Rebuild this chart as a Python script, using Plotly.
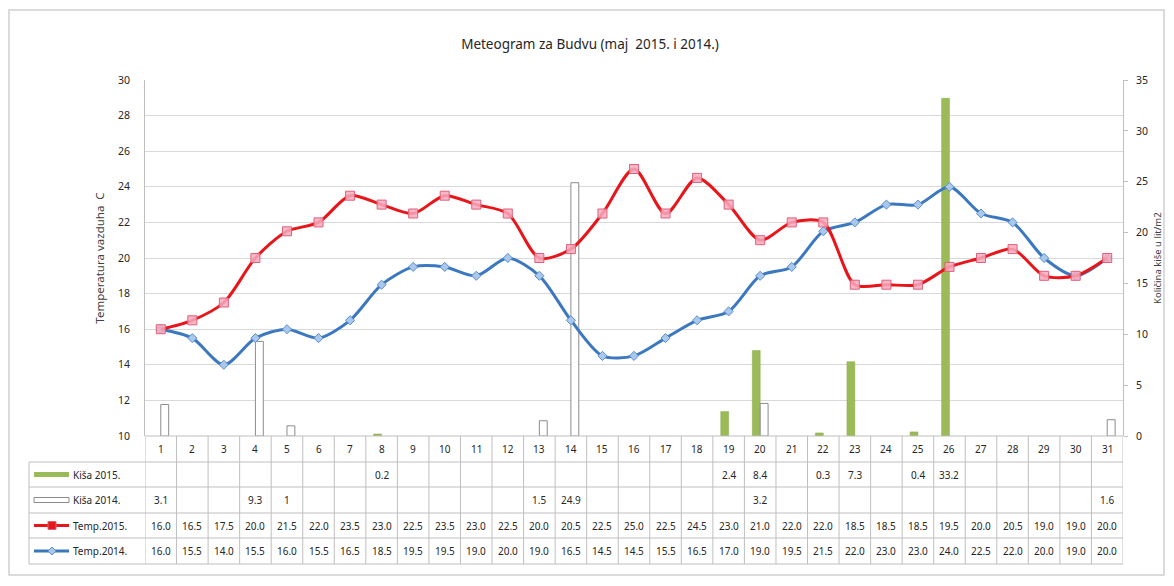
import plotly.graph_objects as go

days = list(range(1, 32))
rain_2015 = {8: 0.2, 19: 2.4, 20: 8.4, 22: 0.3, 23: 7.3, 25: 0.4, 26: 33.2}
rain_2014 = {1: 3.1, 4: 9.3, 5: 1, 13: 1.5, 14: 24.9, 20: 3.2, 31: 1.6}
temp_2015 = [16.0, 16.5, 17.5, 20.0, 21.5, 22.0, 23.5, 23.0, 22.5, 23.5, 23.0, 22.5, 20.0, 20.5, 22.5,
             25.0, 22.5, 24.5, 23.0, 21.0, 22.0, 22.0, 18.5, 18.5, 18.5, 19.5, 20.0, 20.5, 19.0, 19.0, 20.0]
temp_2014 = [16.0, 15.5, 14.0, 15.5, 16.0, 15.5, 16.5, 18.5, 19.5, 19.5, 19.0, 20.0, 19.0, 16.5, 14.5,
             14.5, 15.5, 16.5, 17.0, 19.0, 19.5, 21.5, 22.0, 23.0, 23.0, 24.0, 22.5, 22.0, 20.0, 19.0, 20.0]
row_labels = ["Kiša 2015.", "Kiša 2014.", "Temp.2015.", "Temp.2014."]
title = "Meteogram za Budvu (maj  2015. i 2014.)"
ytitle_left = "Temperatura vazduha  C"
ytitle_right = "Količina kiše u lit/m2"

# page offset caused by the default body margin of the html page
OFF = 8
W, H = 1158, 570
# plot-area edges in page pixels
L, R, T, B = 145, 1123, 80, 436
PW, PH = R - L, B - T

def px(x):
    return (x - L) / PW

def py(y):
    return (B - y) / PH

FONT = "Noto Sans"
GRID = "#D9D9D9"
TBL = "#BFBFBF"
TXT = "#262626"

r15 = [rain_2015.get(d) for d in days]
r14 = [rain_2014.get(d) for d in days]

fig = go.Figure()
fig.add_trace(go.Bar(x=days, y=r15, yaxis="y", name=row_labels[0],
                     marker=dict(color="#9BBB59", line=dict(color="#8AAA4A", width=0.5))))
fig.add_trace(go.Bar(x=days, y=r14, yaxis="y", name=row_labels[1],
                     marker=dict(color="white", line=dict(color="#8C8C8C", width=1))))
fig.add_trace(go.Scatter(x=days, y=temp_2014, yaxis="y2", mode="lines+markers", name=row_labels[3],
                         line=dict(color="#3C78C0", width=3, shape="spline", smoothing=0.8),
                         marker=dict(symbol="diamond", size=7, color="#A9C8EC",
                                     line=dict(color="#5A8ED0", width=1))))
fig.add_trace(go.Scatter(x=days, y=temp_2015, yaxis="y2", mode="lines+markers", name=row_labels[2],
                         line=dict(color="#E8161B", width=3, shape="spline", smoothing=0.8),
                         marker=dict(symbol="square", size=9, color="rgba(246,170,190,0.85)",
                                     line=dict(color="#E0607A", width=1))))

shapes = []
annotations = []

# outer chart border
shapes.append(dict(type="rect", xref="paper", yref="paper", x0=px(9), x1=px(1164), y0=py(10), y1=py(575),
                   line=dict(color="#D0D0D0", width=1.5), fillcolor="rgba(0,0,0,0)", layer="below"))

# table geometry
row_lines = [436, 462, 487, 513, 538, 564]
label_left = 29
for i, yy in enumerate(row_lines):
    x0 = px(label_left) if i >= 1 else 0
    shapes.append(dict(type="line", xref="paper", yref="paper", x0=x0, x1=1, y0=py(yy), y1=py(yy),
                       line=dict(color=TBL, width=1)))
for k in range(0, 32):
    shapes.append(dict(type="line", xref="x", yref="paper", x0=0.5 + k, x1=0.5 + k,
                       y0=py(row_lines[0]), y1=py(row_lines[-1]), line=dict(color=TBL, width=1)))
shapes.append(dict(type="line", xref="paper", yref="paper", x0=px(label_left), x1=px(label_left),
                   y0=py(row_lines[1]), y1=py(row_lines[-1]), line=dict(color=TBL, width=1)))

for d in days:
    annotations.append(dict(x=d, y=py((row_lines[0] + row_lines[1]) / 2), xref="x", yref="paper",
                            xanchor="center", yanchor="middle",
                            text=str(d), showarrow=False, font=dict(family=FONT, size=10, color=TXT)))

def fmt_rain(v):
    if v is None:
        return ""
    return str(int(v)) if float(v).is_integer() else f"{v:.1f}"

rows = [
    [fmt_rain(v) for v in r15],
    [fmt_rain(v) for v in r14],
    [f"{v:.1f}" for v in temp_2015],
    [f"{v:.1f}" for v in temp_2014],
]
for ri, vals in enumerate(rows):
    yc = py((row_lines[ri + 1] + row_lines[ri + 2]) / 2)
    for d, t in zip(days, vals):
        if t:
            annotations.append(dict(x=d, y=yc, xref="x", yref="paper", text=t, showarrow=False,
                                    xanchor="center", yanchor="middle",
                                    font=dict(family=FONT, size=10, color=TXT)))
    annotations.append(dict(x=px(71), y=yc, xref="paper", yref="paper", text=row_labels[ri],
                            showarrow=False, xanchor="left", yanchor="middle",
                            font=dict(family=FONT, size=10, color=TXT)))

# right axis title
annotations.append(dict(x=px(1157), y=py(258), xref="paper", yref="paper", text=ytitle_right,
                        textangle=-90, showarrow=False, xanchor="center", yanchor="middle",
                        font=dict(family=FONT, size=9.5, color="#404040")))

# legend keys
k0, k1 = px(34), px(69)
yc = [py((row_lines[i + 1] + row_lines[i + 2]) / 2) for i in range(4)]
shapes.append(dict(type="line", xref="paper", yref="paper", x0=k0, x1=k1, y0=yc[0], y1=yc[0],
                   line=dict(color="#9BBB59", width=5)))
shapes.append(dict(type="rect", xref="paper", yref="paper", x0=k0, x1=k1,
                   y0=yc[1] - 2.5 / PH, y1=yc[1] + 2.5 / PH, line=dict(color="#8C8C8C", width=1),
                   fillcolor="white"))
shapes.append(dict(type="line", xref="paper", yref="paper", x0=k0, x1=k1, y0=yc[2], y1=yc[2],
                   line=dict(color="#E8161B", width=3)))
shapes.append(dict(type="rect", xref="paper", yref="paper", x0=px(48), x1=px(56),
                   y0=yc[2] - 4 / PH, y1=yc[2] + 4 / PH, line=dict(color="#E0607A", width=1),
                   fillcolor="#E8161B"))
shapes.append(dict(type="line", xref="paper", yref="paper", x0=k0, x1=k1, y0=yc[3], y1=yc[3],
                   line=dict(color="#3C78C0", width=3)))
shapes.append(dict(type="path", xref="paper", yref="paper",
                   path=f"M {px(52)},{yc[3] + 4 / PH} L {px(56)},{yc[3]} L {px(52)},{yc[3] - 4 / PH} L {px(48)},{yc[3]} Z",
                   line=dict(color="#5A8ED0", width=1), fillcolor="#A9C8EC"))

fig.update_layout(
    width=W, height=H,
    margin=dict(l=L - OFF, r=OFF + W - R, t=T - OFF, b=OFF + H - B, pad=0),
    paper_bgcolor="white", plot_bgcolor="white",
    showlegend=False,
    barmode="group", bargap=0.5, bargroupgap=0.0,
    title=dict(text=title, xref="container", x=(590 - OFF) / W, xanchor="center",
               yref="container", y=1 - (44 - OFF) / H, yanchor="middle",
               font=dict(family=FONT, size=13.5, color=TXT)),
    font=dict(family=FONT, size=11, color=TXT),
    xaxis=dict(range=[0.5, 31.5], showticklabels=False, ticks="", showgrid=False, zeroline=False,
               showline=False, fixedrange=True),
    yaxis=dict(range=[0, 35], dtick=5, side="right", showgrid=False, zeroline=False,
               showline=True, linecolor="#BFBFBF", linewidth=1, ticks="outside", ticklen=4,
               tickcolor="#BFBFBF", ticklabelstandoff=6,
               tickfont=dict(family=FONT, size=10.5, color=TXT)),
    yaxis2=dict(range=[10, 30], dtick=2, overlaying="y", side="left", showgrid=True, gridcolor=GRID,
                gridwidth=1, zeroline=False, showline=True, linecolor="#BFBFBF", linewidth=1, ticks="",
                ticklabelstandoff=12,
                tickfont=dict(family=FONT, size=10.5, color=TXT),
                title=dict(text=ytitle_left, font=dict(family=FONT, size=11.5, color="#404040"),
                           standoff=10)),
    shapes=shapes,
    annotations=annotations,
)

fig.write_html("out.html")
